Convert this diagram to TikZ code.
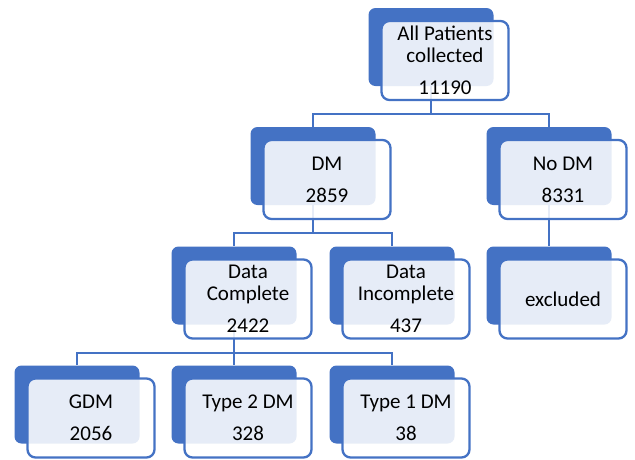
\documentclass[tikz,border=0pt]{standalone}
\usepackage{fontspec}
\setmainfont{Carlito}
\definecolor{ablue}{HTML}{4472C4}
\begin{document}
\begin{tikzpicture}[x=1pt,y=-1pt,
  back/.style={fill=ablue, rounded corners=7pt, minimum width=125pt, minimum height=78pt, inner sep=0pt},
  front/.style={draw=ablue, line width=2.3pt, fill=white, fill opacity=0.87, text opacity=1, rounded corners=8pt, minimum width=127pt, minimum height=79pt, inner sep=0pt, align=center, font=\fontsize{21}{22}\selectfont},
  conn/.style={draw=ablue, line width=2.5pt}]
\useasboundingbox (0,0) rectangle (635,459);
% back boxes
\node[back] (b1) at (431,47) {};
\node[back] (b2) at (313,166) {};
\node[back] (b3) at (549,166) {};
\node[back] (b4) at (234,285.5) {};
\node[back] (b5) at (392,285.5) {};
\node[back] (b6) at (549,285.5) {};
\node[back] (b7) at (77,404.5) {};
\node[back] (b8) at (234,404.5) {};
\node[back] (b9) at (392,404.5) {};
% connectors
\draw[conn] (b1.south) -- ++(0,28) -| (b2.north);
\draw[conn] (b1.south) -- ++(0,28) -| (b3.north);
\draw[conn] (b2.south) -- ++(0,28) -| (b4.north);
\draw[conn] (b2.south) -- ++(0,28) -| (b5.north);
\draw[conn] (b3.south) -- (b6.north);
\draw[conn] (b4.south) -- ++(0,28.5) -| (b7.north);
\draw[conn] (b4.south) -- ++(0,28.5) -| (b8.north);
\draw[conn] (b4.south) -- ++(0,28.5) -| (b9.north);
% front boxes
\node[front] (f1) at (445,60.5) {All Patients\\collected\\[10pt]11190};
\node[front] (f2) at (327,179.5) {DM\\[10pt]2859};
\node[front] (f3) at (563,179.5) {No DM\\[10pt]8331};
\node[front] (f4) at (248,299) {Data\\Complete\\[10pt]2422};
\node[front] (f5) at (406,299) {Data\\Incomplete\\[10pt]437};
\node[front] (f6) at (563,299) {excluded};
\node[front] (f7) at (91,418) {GDM\\[10pt]2056};
\node[front] (f8) at (248,418) {Type 2 DM\\[10pt]328};
\node[front] (f9) at (406,418) {Type 1 DM\\[10pt]38};
\end{tikzpicture}
\end{document}
